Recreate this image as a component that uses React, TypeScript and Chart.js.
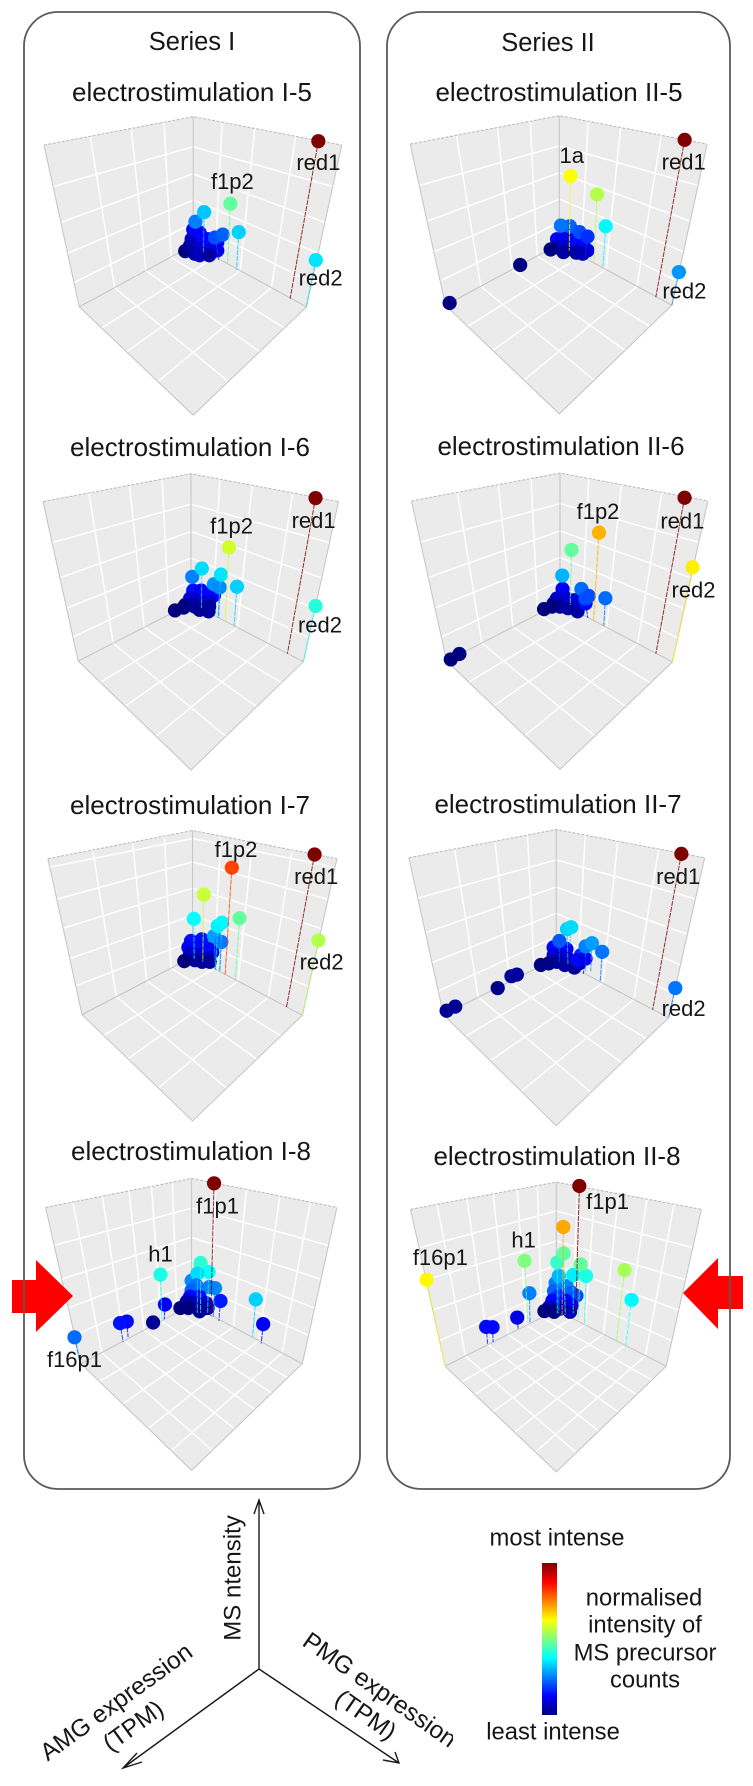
import React, { useEffect, useRef } from "react";
import { Chart, registerables } from "chart.js";

Chart.register(...registerables);

const PAGE_W = 753;
const PAGE_H = 1786;
const FONT = '"Liberation Sans", Arial, sans-serif';
const INK = "#161616";

// Colour scale of the key: position on the bar -> colour
const JET_POS = [0, 0.125, 0.375, 0.625, 0.875, 1];
const JET_RGB = [
  [0, 0, 127],
  [0, 0, 255],
  [0, 255, 255],
  [255, 255, 0],
  [255, 0, 0],
  [127, 0, 0],
];

// Projected points of each plot: [x, top, stem foot x, stem foot y, normalised intensity]
const I5_points = [
  [555, 757, 555, 757, 0], [570, 740, 570, 740, 0.03], [575, 720, 575, 720, 0.05], [580, 690, 580, 690, 0.12],
  [600, 700, 600, 700, 0.125], [610, 730, 610, 730, 0.12], [625, 720, 625, 720, 0.12], [640, 745, 640, 745, 0.1],
  [655, 730, 655, 730, 0.12], [655, 755, 655, 755, 0.1], [600, 750, 600, 750, 0.08], [585, 765, 585, 765, 0.04],
  [600, 770, 600, 770, 0.06], [630, 770, 630, 770, 0.03], [648, 715, 660, 785, 0.2], [672, 706, 672, 706, 0.22],
  [587, 666, 587, 666, 0.25], [614, 636, 612, 760, 0.32], [722, 698, 715, 815, 0.33], [696, 610, 687, 795, 0.47],
  [962, 785, 932, 930, 0.35], [970, 416, 882, 905, 1],
];
const I6_points = [
  [520, 495, 520, 495, 0.14], [545, 495, 545, 495, 0.12], [565, 510, 565, 510, 0.13], [585, 510, 585, 510, 0.13],
  [510, 520, 510, 520, 0.08], [540, 525, 540, 525, 0.08], [570, 530, 570, 530, 0.08], [495, 540, 495, 540, 0.03],
  [525, 545, 525, 545, 0.03], [555, 550, 555, 550, 0.03], [520, 540, 520, 540, 0.03], [570, 545, 570, 545, 0.03],
  [463, 557, 463, 557, 0], [490, 548, 490, 548, 0], [540, 555, 540, 555, 0.02], [568, 560, 568, 560, 0.03],
  [517, 452, 517, 452, 0.25], [585, 475, 585, 475, 0.27], [603, 485, 600, 580, 0.26], [547, 426, 546, 550, 0.34],
  [607, 445, 597, 580, 0.35], [657, 483, 648, 605, 0.33], [632, 360, 620, 590, 0.58],
  [903, 543, 865, 717, 0.41], [903, 206, 815, 692, 1],
];
const I7_points = [
  [513, 465, 513, 465, 0.14], [547, 460, 547, 460, 0.14], [530, 480, 530, 480, 0.13], [570, 490, 570, 490, 0.13],
  [505, 485, 505, 485, 0.12], [580, 500, 580, 500, 0.13], [510, 505, 510, 505, 0.07], [540, 510, 540, 510, 0.07],
  [570, 520, 570, 520, 0.07], [525, 525, 525, 525, 0.03], [492, 528, 492, 528, 0], [548, 530, 548, 530, 0.02],
  [572, 530, 572, 530, 0.03], [585, 450, 590, 555, 0.28], [608, 468, 603, 560, 0.24], [597, 418, 590, 555, 0.36],
  [610, 408, 603, 560, 0.37], [522, 396, 523, 520, 0.38], [553, 320, 550, 530, 0.57], [665, 394, 652, 585, 0.47],
  [641, 236, 620, 570, 0.81], [912, 463, 862, 697, 0.55], [900, 195, 812, 672, 1],
];
const I8_points = [
  [575, 540, 575, 540, 0.26], [603, 485, 603, 640, 0.42], [628, 513, 625, 640, 0.38], [593, 518, 593, 640, 0.34],
  [648, 563, 642, 655, 0.26], [630, 560, 630, 560, 0.25], [590, 555, 590, 555, 0.24], [575, 570, 575, 570, 0.22],
  [600, 590, 600, 590, 0.14], [570, 590, 570, 590, 0.13], [560, 605, 560, 605, 0.05], [620, 610, 620, 610, 0.08],
  [580, 610, 580, 610, 0.05], [610, 620, 610, 620, 0.05], [540, 625, 540, 625, 0], [565, 625, 565, 625, 0],
  [625, 625, 625, 625, 0.04], [600, 635, 600, 635, 0.02], [665, 603, 660, 665, 0.15], [492, 614, 490, 660, 0.12],
  [478, 521, 482, 660, 0.4], [455, 670, 455, 670, 0.02], [373, 667, 377, 715, 0.13], [352, 672, 362, 730, 0.14],
  [210, 716, 228, 800, 0.23], [775, 598, 765, 715, 0.33], [798, 675, 792, 735, 0.12], [645, 237, 635, 650, 1],
];
const II5_points = [
  [530, 720, 530, 720, 0.12], [560, 710, 560, 710, 0.12], [590, 725, 590, 725, 0.13], [615, 745, 615, 745, 0.13],
  [525, 745, 525, 745, 0.05], [555, 745, 555, 745, 0.08], [585, 755, 585, 755, 0.1], [625, 755, 625, 755, 0.1],
  [510, 752, 510, 752, 0], [550, 760, 550, 760, 0.03], [590, 762, 590, 762, 0.03], [610, 765, 610, 765, 0.05],
  [570, 680, 570, 680, 0.22], [542, 678, 542, 678, 0.24], [600, 698, 600, 698, 0.2], [625, 712, 618, 775, 0.17],
  [682, 680, 673, 805, 0.37], [655, 581, 645, 795, 0.55], [572, 524, 568, 755, 0.625],
  [415, 800, 415, 800, 0], [195, 918, 195, 918, 0], [910, 822, 888, 925, 0.27], [928, 412, 838, 900, 1],
];
const II6_points = [
  [518, 490, 518, 490, 0.12], [500, 520, 500, 520, 0.08], [530, 520, 530, 520, 0.08], [555, 525, 555, 525, 0.08],
  [575, 535, 575, 535, 0.08], [490, 535, 490, 535, 0.05], [510, 545, 510, 545, 0.03], [535, 550, 535, 550, 0.03],
  [565, 560, 565, 560, 0.03], [460, 553, 460, 553, 0], [485, 545, 485, 545, 0], [577, 490, 577, 490, 0.23],
  [590, 535, 597, 580, 0.13], [590, 520, 590, 520, 0.2], [600, 512, 600, 512, 0.2], [517, 448, 517, 448, 0.3],
  [546, 368, 542, 540, 0.47], [632, 314, 615, 590, 0.7], [652, 519, 647, 605, 0.23],
  [195, 693, 195, 693, 0], [168, 710, 168, 710, 0], [925, 422, 862, 718, 0.64], [900, 205, 810, 692, 1],
];
const II7_points = [
  [490, 485, 490, 485, 0.13], [530, 490, 530, 490, 0.12], [508, 465, 508, 530, 0.21], [490, 510, 490, 510, 0.08],
  [515, 515, 515, 515, 0.07], [535, 520, 535, 520, 0.08], [500, 530, 500, 530, 0.03], [525, 540, 525, 540, 0.03],
  [555, 548, 555, 548, 0.02], [570, 535, 570, 535, 0.03], [450, 540, 450, 540, 0], [475, 535, 475, 535, 0.01],
  [575, 510, 575, 510, 0.16], [565, 525, 565, 525, 0.13], [590, 520, 583, 568, 0.11], [590, 482, 590, 560, 0.25],
  [610, 472, 606, 560, 0.28], [642, 499, 636, 590, 0.24], [532, 428, 535, 540, 0.33], [545, 422, 540, 480, 0.34],
  [375, 570, 375, 570, 0.03], [358, 575, 358, 575, 0.03], [315, 612, 315, 612, 0.01], [182, 670, 182, 670, 0.02],
  [155, 683, 155, 683, 0.02], [871, 612, 850, 705, 0.24], [890, 193, 800, 680, 1],
];
const II8_points = [
  [495, 440, 495, 440, 0.25], [490, 465, 490, 465, 0.22], [530, 450, 530, 450, 0.25], [545, 470, 545, 470, 0.22],
  [560, 480, 560, 480, 0.2], [505, 480, 505, 480, 0.17], [485, 495, 485, 495, 0.13], [525, 495, 525, 495, 0.13],
  [545, 510, 545, 510, 0.12], [475, 515, 475, 515, 0.07], [510, 520, 510, 520, 0.05], [540, 530, 540, 530, 0.05],
  [460, 528, 460, 528, 0], [490, 530, 490, 530, 0], [505, 418, 505, 535, 0.3], [550, 415, 550, 535, 0.36],
  [590, 418, 585, 570, 0.4], [573, 382, 565, 555, 0.47], [500, 376, 500, 535, 0.43], [520, 348, 525, 540, 0.47],
  [519, 265, 515, 540, 0.71], [413, 472, 415, 565, 0.25], [398, 371, 408, 565, 0.5], [375, 548, 378, 585, 0.1],
  [298, 578, 300, 625, 0.13], [278, 577, 283, 632, 0.13], [92, 430, 150, 700, 0.63], [710, 400, 685, 618, 0.54],
  [732, 493, 713, 635, 0.37], [569, 137, 558, 530, 1],
];

// Point labels of each plot: [text, x, y]
const I5_labels = [["red1", 970, 487], ["red2", 977, 845], ["f1p2", 702, 545]];
const I6_labels = [["f1p2", 640, 298], ["red1", 897, 280], ["red2", 917, 607]];
const I7_labels = [["f1p2", 654, 183], ["red1", 905, 268], ["red2", 922, 535]];
const I8_labels = [["f1p1", 656, 312], ["h1", 478, 462], ["f16p1", 210, 790]];
const II5_labels = [["1a", 576, 465], ["red1", 925, 485], ["red2", 927, 885]];
const II6_labels = [["f1p2", 629, 253], ["red1", 893, 282], ["red2", 928, 498]];
const II7_labels = [["red1", 880, 268], ["red2", 897, 680]];
const II8_labels = [["f1p1", 657, 190], ["h1", 395, 310], ["f16p1", 135, 365]];

// Grid divisions of the box walls (fractions along each edge)
const U_STD = [0.31, 0.585, 0.805];
const V_EDGE_STD = [0.257, 0.478, 0.669, 0.85];
const V_BACK_STD = [0.235, 0.445, 0.65, 0.83];

const PANELS = [
  { title: "electrostimulation I-5", tx: 192, ty: 94, ox: 0, oy: 0, w: 380, h: 430, B: [580, 340], BF: [580, 738], L: [115, 428], LB: [225, 930], R: [1043, 428], RB: [933, 930], F: [580, 1266], uL: U_STD, uR: U_STD, vE: V_EDGE_STD, vB: V_BACK_STD, points: I5_points, labels: I5_labels },
  { title: "electrostimulation I-6", tx: 190, ty: 449, ox: 20, oy: 425, w: 340, h: 360, B: [513, 130], BF: [513, 535], L: [50, 217], LB: [160, 715], R: [975, 217], RB: [865, 717], F: [513, 1055], uL: U_STD, uR: U_STD, vE: V_EDGE_STD, vB: V_BACK_STD, points: I6_points, labels: I6_labels },
  { title: "electrostimulation I-7", tx: 190, ty: 807, ox: 20, oy: 785, w: 340, h: 360, B: [518, 120], BF: [518, 515], L: [65, 208], LB: [172, 695], R: [970, 208], RB: [862, 697], F: [518, 1027], uL: U_STD, uR: U_STD, vE: [0.055, 0.26, 0.446, 0.641, 0.815], vB: [0.063, 0.248, 0.456, 0.671, 0.873], points: I7_points, labels: I7_labels },
  { title: "electrostimulation I-8", tx: 191, ty: 1153, ox: 0, oy: 1100, w: 380, h: 400, B: [575, 222], BF: [575, 615], L: [120, 312], LB: [230, 798], R: [1028, 312], RB: [920, 798], F: [575, 1130], uL: [0.187, 0.389, 0.571, 0.725, 0.868], uR: [0.183, 0.392, 0.623, 0.832], vE: [0.243, 0.459, 0.644, 0.819], vB: [0.235, 0.466, 0.65, 0.83], points: I8_points, labels: I8_labels },
  { title: "electrostimulation II-5", tx: 559, ty: 94, ox: 380, oy: 0, w: 373, h: 430, B: [537, 337], BF: [537, 735], L: [72, 425], LB: [182, 925], R: [998, 425], RB: [888, 925], F: [537, 1262], uL: U_STD, uR: U_STD, vE: V_EDGE_STD, vB: V_BACK_STD, points: II5_points, labels: II5_labels },
  { title: "electrostimulation II-6", tx: 561, ty: 448, ox: 390, oy: 425, w: 340, h: 360, B: [510, 128], BF: [510, 533], L: [45, 215], LB: [155, 715], R: [973, 215], RB: [862, 718], F: [510, 1053], uL: U_STD, uR: U_STD, vE: V_EDGE_STD, vB: V_BACK_STD, points: II6_points, labels: II6_labels },
  { title: "electrostimulation II-7", tx: 558, ty: 806, ox: 390, oy: 785, w: 340, h: 360, B: [498, 117], BF: [498, 520], L: [37, 205], LB: [145, 695], R: [963, 205], RB: [850, 705], F: [498, 1042], uL: U_STD, uR: U_STD, vE: V_EDGE_STD, vB: V_BACK_STD, points: II7_points, labels: II7_labels },
  { title: "electrostimulation II-8", tx: 557, ty: 1158, ox: 390, oy: 1135, w: 363, h: 360, B: [497, 125], BF: [497, 525], L: [42, 210], LB: [150, 700], R: [950, 210], RB: [840, 700], F: [497, 1030], uL: [0.182, 0.387, 0.567, 0.732, 0.87], uR: [0.188, 0.375, 0.57, 0.735, 0.852], vE: [0.245, 0.449, 0.643, 0.837], vB: [0.225, 0.46, 0.65, 0.83], points: II8_points, labels: II8_labels },
];

// Texts on the page and in the key
const HEADINGS = [["Series I", 192, 43], ["Series II", 548, 44]];
const KEY_TEXTS = [
  ["most intense", 557, 1539],
  ["least intense", 553, 1733],
  ["normalised", 644, 1599],
  ["intensity of", 645, 1626],
  ["MS precursor", 645, 1654],
  ["counts", 645, 1681],
];

function jet(v: number, alpha = 1) {
  let i = 0;
  while (i < JET_POS.length - 2 && v > JET_POS[i + 1]) i++;
  const t = (v - JET_POS[i]) / (JET_POS[i + 1] - JET_POS[i]);
  const c = JET_RGB[i].map((a, k) => Math.round(a + (JET_RGB[i + 1][k] - a) * t));
  return `rgba(${c[0]},${c[1]},${c[2]},${alpha})`;
}

const mix = (a: number[], b: number[], t: number) => ({ x: a[0] + (b[0] - a[0]) * t, y: a[1] + (b[1] - a[1]) * t });
const xy = (p: number[]) => ({ x: p[0], y: p[1] });
const GAP = { x: NaN, y: NaN };

function gridPoints(p: any) {
  const out: any[] = [];
  const seg = (a: any, b: any) => out.push(a, b, GAP);
  p.uL.forEach((u: number) => {
    seg(mix(p.L, p.B, u), mix(p.LB, p.BF, u));
    seg(mix(p.LB, p.BF, u), mix(p.F, p.RB, u));
  });
  p.uR.forEach((u: number) => {
    seg(mix(p.R, p.B, u), mix(p.RB, p.BF, u));
    seg(mix(p.RB, p.BF, u), mix(p.F, p.LB, u));
  });
  p.vE.forEach((v: number, i: number) => {
    seg(mix(p.L, p.LB, v), mix(p.B, p.BF, p.vB[i]));
    seg(mix(p.R, p.RB, v), mix(p.B, p.BF, p.vB[i]));
  });
  return out;
}

const line = (data: any[], color: string, width: number, order: number, extra: any = {}) => ({
  data,
  showLine: true,
  borderColor: color,
  borderWidth: width,
  pointRadius: 0,
  spanGaps: false,
  tension: 0,
  order,
  clip: false,
  ...extra,
});

function panelConfig(p: any) {
  const walls = [
    [p.L, p.B, p.BF, p.LB, p.L],
    [p.R, p.B, p.BF, p.RB, p.R],
    [p.LB, p.BF, p.RB, p.F, p.LB],
  ].map((w) =>
    line(w.map(xy), "rgba(0,0,0,0)", 0, 9, { fill: "shape", backgroundColor: "#ebebeb" })
  );
  const grid = line(gridPoints(p), "#ffffff", 1.5, 8);
  const dashed = line([xy(p.L), xy(p.B), xy(p.R)], "#b9b9b9", 1, 7, { borderDash: [3, 1.5] });
  const edges = line(
    [xy(p.B), xy(p.BF), GAP, xy(p.L), xy(p.LB), xy(p.F), xy(p.RB), xy(p.R), GAP, xy(p.LB), xy(p.BF), xy(p.RB)],
    "#c4c4c4",
    1,
    7
  );
  const stems = p.points
    .filter((q: number[]) => q[2] !== q[0] || q[3] !== q[1])
    .map((q: number[]) =>
      line([{ x: q[0], y: q[1] }, { x: q[2], y: q[3] }], jet(q[4], 0.8), 1, 1, { borderDash: [5, 1] })
    );
  const balls = {
    data: p.points.map((q: number[]) => ({ x: q[0], y: q[1] })),
    showLine: false,
    pointRadius: 7.1,
    pointBorderWidth: 0,
    pointBackgroundColor: p.points.map((q: number[]) => jet(q[4])),
    order: 2,
    clip: false,
  };
  const labelPlugin = {
    id: "pointLabels",
    afterDatasetsDraw(chart: any) {
      const { ctx, scales } = chart;
      ctx.save();
      ctx.font = `22px ${FONT}`;
      ctx.fillStyle = INK;
      ctx.textAlign = "center";
      ctx.textBaseline = "middle";
      p.labels.forEach((l: any[]) => ctx.fillText(l[0], scales.x.getPixelForValue(l[1]), scales.y.getPixelForValue(l[2])));
      ctx.restore();
    },
  };
  return {
    type: "scatter",
    data: { datasets: [...walls, grid, dashed, edges, balls, ...stems] },
    options: {
      animation: false,
      responsive: false,
      devicePixelRatio: 2,
      layout: { padding: 0 },
      plugins: { legend: { display: false }, tooltip: { enabled: false }, title: { display: false } },
      scales: {
        x: { type: "linear", display: false, min: 0, max: p.w * 3 },
        y: { type: "linear", display: false, min: 0, max: p.h * 3, reverse: true },
      },
    },
    plugins: [labelPlugin],
  };
}

// Arrow outlines and diagram axes on the page layer
const RED_LEFT = [[12, 1280], [36, 1280], [36, 1260], [73, 1296], [36, 1332], [36, 1313], [12, 1313], [12, 1280]];
const RED_RIGHT = [[683, 1293], [718, 1258], [718, 1276], [743, 1276], [743, 1309], [718, 1309], [718, 1329], [683, 1293]];
const AXIS_UP = [[259, 1669], [259, 1500], GAP, [254, 1514], [259, 1500], [264, 1514]];
const AXIS_LEFT = [[259, 1669], [123, 1768], GAP, [137, 1753], [123, 1768], [142, 1762]];
const AXIS_RIGHT = [[259, 1669], [399, 1763], GAP, [395, 1752], [399, 1763], [383, 1760]];
const toPts = (a: any[]) => a.map((q) => (Array.isArray(q) ? xy(q) : q));

function pageConfig() {
  const pagePlugin = {
    id: "pageLayer",
    afterDatasetsDraw(chart: any) {
      const { ctx, scales } = chart;
      const X = (v: number) => scales.x.getPixelForValue(v);
      const Y = (v: number) => scales.y.getPixelForValue(v);
      ctx.save();
      // frames
      ctx.strokeStyle = "#5a5a5a";
      ctx.lineWidth = 1.8;
      [[24, 12, 336, 1477], [387, 12, 343, 1477]].forEach(([x, y, w, h]) => {
        ctx.beginPath();
        ctx.roundRect(X(x), Y(y), w, h, 34);
        ctx.stroke();
      });
      // colour bar
      const g = ctx.createLinearGradient(0, Y(1715), 0, Y(1563));
      JET_POS.forEach((pos, i) => g.addColorStop(pos, `rgb(${JET_RGB[i].join(",")})`));
      ctx.fillStyle = g;
      ctx.fillRect(X(542), Y(1563), 15, 152);
      // texts
      ctx.fillStyle = INK;
      ctx.textAlign = "center";
      ctx.textBaseline = "middle";
      ctx.font = `25.5px ${FONT}`;
      HEADINGS.forEach((t: any) => ctx.fillText(t[0], X(t[1]), Y(t[2])));
      ctx.font = `26px ${FONT}`;
      PANELS.forEach((p) => ctx.fillText(p.title, X(p.tx), Y(p.ty)));
      ctx.font = `23.8px ${FONT}`;
      KEY_TEXTS.forEach((t: any) => ctx.fillText(t[0], X(t[1]), Y(t[2])));
      const rotated = (text: string, x: number, y: number, deg: number, clipX?: number) => {
        ctx.save();
        if (clipX) {
          ctx.beginPath();
          ctx.rect(0, 0, X(clipX), Y(PAGE_H));
          ctx.clip();
        }
        ctx.translate(X(x), Y(y));
        ctx.rotate((deg * Math.PI) / 180);
        ctx.fillText(text, 0, 0);
        ctx.restore();
      };
      ctx.font = `24px ${FONT}`;
      rotated("MS ntensity", 234, 1578, -90);
      ctx.font = `24.5px ${FONT}`;
      rotated("AMG expression", 117, 1703, -36);
      rotated("(TPM)", 134, 1727, -36);
      rotated("PMG expression", 379, 1691, 35, 453);
      rotated("(TPM)", 365, 1716, 35);
      ctx.restore();
    },
  };
  return {
    type: "scatter",
    data: {
      datasets: [
        line(toPts(RED_LEFT), "rgba(0,0,0,0)", 0, 1, { fill: "shape", backgroundColor: "#ff0000" }),
        line(toPts(RED_RIGHT), "rgba(0,0,0,0)", 0, 1, { fill: "shape", backgroundColor: "#ff0000" }),
        line(toPts(AXIS_UP), "#1a1a1a", 1.4, 1),
        line(toPts(AXIS_LEFT), "#1a1a1a", 1.4, 1),
        line(toPts(AXIS_RIGHT), "#1a1a1a", 1.4, 1),
      ],
    },
    options: {
      animation: false,
      responsive: false,
      devicePixelRatio: 2,
      layout: { padding: 0 },
      plugins: { legend: { display: false }, tooltip: { enabled: false } },
      scales: {
        x: { type: "linear", display: false, min: 0, max: PAGE_W },
        y: { type: "linear", display: false, min: 0, max: PAGE_H, reverse: true },
      },
    },
    plugins: [pagePlugin],
  };
}

function ChartCanvas({ config, left, top, width, height, z }: any) {
  const ref = useRef<HTMLCanvasElement>(null);
  useEffect(() => {
    const chart = new Chart(ref.current as any, config());
    return () => chart.destroy();
  }, []);
  return (
    <canvas
      ref={ref}
      width={width}
      height={height}
      style={{ position: "absolute", left, top, width, height, zIndex: z, pointerEvents: "none" }}
    />
  );
}

export default function App() {
  return (
    <div style={{ position: "absolute", left: 0, top: 0, width: PAGE_W, height: PAGE_H, overflow: "hidden", background: "#fff" }}>
      {PANELS.map((p) => (
        <ChartCanvas key={p.title} config={() => panelConfig(p)} left={p.ox} top={p.oy} width={p.w} height={p.h} z={1} />
      ))}
      <ChartCanvas config={pageConfig} left={0} top={0} width={PAGE_W} height={PAGE_H} z={2} />
    </div>
  );
}
